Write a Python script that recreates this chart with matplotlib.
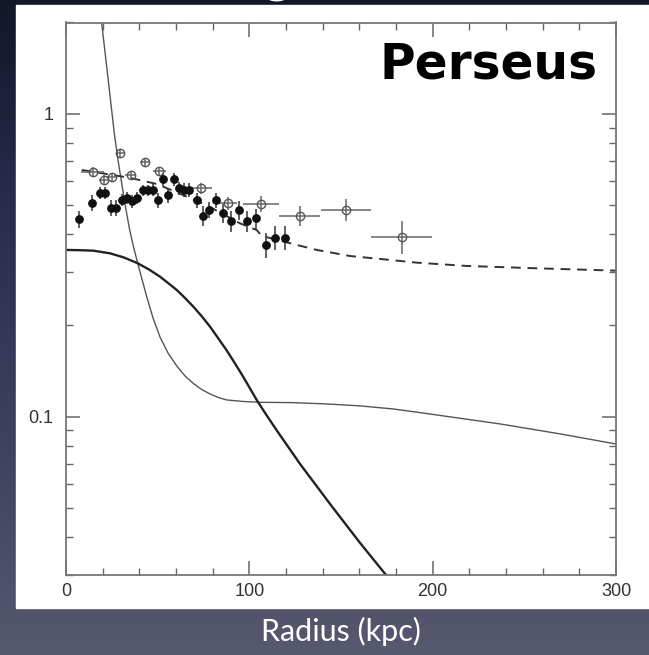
import numpy as np
import matplotlib
matplotlib.use("Agg")
import matplotlib.pyplot as plt
from matplotlib.colors import LinearSegmentedColormap
from matplotlib.patches import Rectangle
from matplotlib.ticker import FixedLocator, FixedFormatter, MultipleLocator, LogLocator, NullFormatter

plt.rcParams["font.family"] = ["Liberation Sans", "DejaVu Sans"]

# model curves (radius in kpc)
steep_r = [18.65, 19.47, 22.91, 24.71, 26.46, 28.36, 30.27, 32.35, 34.53, 36.82, 39.11, 44.02,
           47.46, 51.27, 55.64, 60.38, 64.91, 69.44, 73.91, 78.55, 82.91, 87.66, 96.55, 105.8,
           124.0, 142.2, 160.4, 178.4, 193.1, 236.7, 269.5, 300.0]
steep_y = [2.199, 1.987, 1.311, 1.052, 0.851, 0.7035, 0.595, 0.496, 0.4196, 0.3632, 0.3208,
           0.2489, 0.2117, 0.1832, 0.1622, 0.147, 0.1362, 0.1287, 0.123, 0.1188, 0.1157, 0.1135,
           0.1122, 0.1115, 0.1112, 0.1101, 0.1085, 0.106, 0.1031, 0.0946, 0.0877, 0.0812]

thick_r = [0.0, 7.64, 14.89, 24.0, 31.64, 39.11, 45.27, 51.27, 55.64, 60.38, 64.91, 69.44,
           73.91, 78.55, 82.91, 87.66, 92.18, 96.71, 100.36, 104.02, 109.47, 114.93, 127.64,
           144.0, 160.37, 176.73]
thick_y = [0.355, 0.3543, 0.353, 0.346, 0.3352, 0.3208, 0.306, 0.2897, 0.2762, 0.2619, 0.2464,
           0.2307, 0.2149, 0.1982, 0.1818, 0.1654, 0.1498, 0.1352, 0.1239, 0.1135, 0.1009,
           0.0901, 0.0698, 0.0515, 0.0383, 0.0289]

dash_r = [8.6, 34.9, 49.5, 63.8, 78.5, 94.9, 104.0, 106.8, 125.9, 136.8, 154.9, 173.1,
          191.3, 218.6, 254.9, 300.0]
dash_y = [0.652, 0.614, 0.586, 0.539, 0.492, 0.4347, 0.413, 0.395, 0.3687, 0.355, 0.339,
          0.3307, 0.3223, 0.3143, 0.309, 0.3033]

# filled points
fill_r = [7.3, 14.0, 18.5, 21.3, 24.5, 27.3, 30.4, 33.0, 35.8, 38.6, 42.2, 44.9, 47.6, 50.4,
          53.1, 55.8, 58.8, 61.6, 64.4, 67.1, 71.3, 74.6, 78.0, 81.7, 85.4, 90.0, 94.4, 98.9,
          103.6, 109.1, 114.0, 119.5]
fill_y = [0.449, 0.509, 0.549, 0.549, 0.490, 0.490, 0.519, 0.527, 0.515, 0.527, 0.558, 0.558,
          0.560, 0.519, 0.609, 0.539, 0.609, 0.567, 0.560, 0.560, 0.519, 0.461, 0.481, 0.519,
          0.470, 0.441, 0.481, 0.4415, 0.451, 0.3687, 0.390, 0.390]
fill_yerr = [0.03, 0.03, 0.025, 0.025, 0.03, 0.03, 0.025, 0.025, 0.025, 0.025, 0.025, 0.025,
             0.025, 0.03, 0.03, 0.03, 0.03, 0.03, 0.03, 0.03, 0.03, 0.035, 0.03, 0.03, 0.035,
             0.035, 0.035, 0.035, 0.035, 0.035, 0.035, 0.035]
fill_xerr = [1.5] * len(fill_r)

# open points
open_r = [14.5, 20.5, 24.9, 29.5, 35.3, 42.9, 50.9, 73.9, 88.5, 106.4, 127.4, 152.7, 183.1]
open_y = [0.644, 0.606, 0.618, 0.740, 0.626, 0.694, 0.648, 0.567, 0.506, 0.505, 0.4596,
          0.481, 0.393]
open_xerr = [6.4, 2.5, 2.5, 2.0, 3.0, 2.5, 3.6, 5.5, 5.0, 10.0, 11.0, 13.6, 16.6]
open_yerr = [0.025, 0.02, 0.02, 0.025, 0.02, 0.02, 0.02, 0.025, 0.025, 0.03, 0.035, 0.04, 0.05]

W, H = 649, 655
fig = plt.figure(figsize=(W / 100, H / 100), dpi=100)

# slide background with white panel
bg = fig.add_axes([0, 0, 1, 1])
bg.axis("off")
slide = LinearSegmentedColormap.from_list(
    "slide", [(0, "#121628"), (0.3, "#282b4c"), (0.7, "#40435f"), (1, "#56596f")])
bg.imshow(np.linspace(0, 1, 256).reshape(-1, 1), aspect="auto", cmap=slide,
          extent=[0, 1, 0, 1], origin="upper")
bg.add_patch(Rectangle((16 / W, 47 / H), (W - 16) / W, 603 / H, color="white",
                       transform=bg.transAxes))
bg.set_xlim(0, 1)
bg.set_ylim(0, 1)

ax = fig.add_axes([66 / W, 80 / H, 550 / W, 552.5 / H])
ax.set_yscale("log")

ax.plot(steep_r, steep_y, color="#555555", lw=1.0)
ax.plot(thick_r, thick_y, color="#222222", lw=1.7)
ax.plot(dash_r, dash_y, color="#333333", lw=1.4, ls=(0, (5, 3.5)))

ax.errorbar(open_r, open_y, xerr=open_xerr, yerr=open_yerr, fmt="o", ms=6,
            mfc="none", mec="#555555", mew=1.0, ecolor="#666666", elinewidth=1.1, capsize=0)
ax.errorbar(fill_r, fill_y, xerr=fill_xerr, yerr=fill_yerr, fmt="o", ms=5.3,
            color="#111111", ecolor="#333333", elinewidth=1.1, capsize=0)

ax.set_xlim(0, 300)
ax.set_ylim(0.03, 2)
ax.xaxis.set_major_locator(MultipleLocator(100))
ax.xaxis.set_minor_locator(MultipleLocator(20))
ax.yaxis.set_major_locator(FixedLocator([0.1, 1]))
ax.yaxis.set_major_formatter(FixedFormatter(["0.1", "1"]))
ax.yaxis.set_minor_locator(LogLocator(subs=np.arange(2, 10)))
ax.yaxis.set_minor_formatter(NullFormatter())

ax.tick_params(which="both", direction="in", top=True, right=True,
               colors="#666666", labelcolor="#333333", labelsize=13)
ax.tick_params(which="major", length=10, width=1.1)
ax.tick_params(which="minor", length=5, width=1.0)
ax.tick_params(axis="x", pad=6)
ax.tick_params(axis="y", pad=9)
for s in ax.spines.values():
    s.set_color("#777777")
    s.set_linewidth(1.3)

ax.text(0.9655, 0.8995, "Perseus", transform=ax.transAxes, ha="right", va="baseline",
        fontsize=35, fontweight="bold", family="DejaVu Sans", color="black")

fig.text(341 / W, 14 / H, "Radius (kpc)", ha="center", va="baseline",
         fontsize=22, color="white", family="Lato")
fig.text(277 / W, 1.014, "g", ha="center", va="baseline",
         fontsize=40, color="white", family="Lato")

fig.savefig("out.png", dpi=100)
